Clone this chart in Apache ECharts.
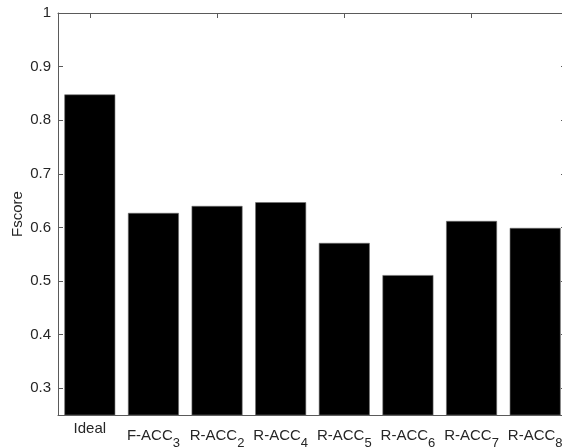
<!DOCTYPE html>
<html>
<head>
<meta charset="utf-8">
<script src="https://cdn.jsdelivr.net/npm/echarts@6/dist/echarts.min.js"></script>
<style>
html,body{margin:0;padding:0;background:#fff;}
#chart{width:562px;height:448px;}
</style>
</head>
<body>
<div id="chart"></div>
<script>
// Data
var categories = ['Ideal', 'F-ACC{sub|3}', 'R-ACC{sub|2}', 'R-ACC{sub|4}', 'R-ACC{sub|5}', 'R-ACC{sub|6}', 'R-ACC{sub|7}', 'R-ACC{sub|8}'];
var fscore = [0.848, 0.627, 0.640, 0.647, 0.571, 0.511, 0.612, 0.599];
var yTicks = [0.3, 0.4, 0.5, 0.6, 0.7, 0.8, 0.9, 1];
var yTickLabels = ['0.3', '0.4', '0.5', '0.6', '0.7', '0.8', '0.9', '1'];
var yLabel = 'Fscore';

var axisColor = '#5a5a5a';
var textColor = '#262626';
var fontFamily = 'Liberation Sans, Arial, sans-serif';

var chart = echarts.init(document.getElementById('chart'), null, {renderer: 'canvas'});
var option = {
  animation: false,
  backgroundColor: '#fff',
  grid: {left: 58, top: 13, right: -5, bottom: 33, containLabel: false, outerBoundsMode: 'none'},
  xAxis: [{
    type: 'category',
    data: categories,
    position: 'bottom',
    axisLine: {show: true, lineStyle: {color: axisColor, width: 1}},
    axisTick: {show: true, inside: true, length: 5, alignWithLabel: true, lineStyle: {color: axisColor}},
    axisLabel: {
      interval: 0, margin: 6, color: textColor, fontSize: 15, fontFamily: fontFamily,
      rich: {sub: {fontSize: 13, color: textColor, fontFamily: fontFamily, padding: [16, 0, 0, 0]}}
    },
    splitLine: {show: false}
  }, {
    type: 'category',
    data: categories,
    position: 'top',
    axisLine: {show: true, lineStyle: {color: axisColor, width: 1}},
    axisTick: {show: true, inside: true, length: 5, alignWithLabel: true, lineStyle: {color: axisColor}},
    axisLabel: {show: false},
    splitLine: {show: false}
  }],
  yAxis: [{
    type: 'value',
    min: 0.25,
    max: 1,
    position: 'left',
    name: yLabel,
    nameLocation: 'middle',
    nameGap: 33,
    nameMoveOverlap: false,
    nameTextStyle: {color: textColor, fontSize: 15, fontFamily: fontFamily},
    axisLine: {show: true, lineStyle: {color: axisColor, width: 1}},
    axisTick: {show: true, inside: true, length: 5, customValues: yTicks, lineStyle: {color: axisColor}},
    axisLabel: {
      customValues: yTicks, margin: 7, color: textColor, fontSize: 15, fontFamily: fontFamily,
      formatter: function (v) { var i = yTicks.findIndex(function (t) { return Math.abs(t - v) < 1e-9; }); return i >= 0 ? yTickLabels[i] : ''; }
    },
    splitLine: {show: false}
  }, {
    type: 'value',
    min: 0.25,
    max: 1,
    position: 'right',
    axisLine: {show: true, lineStyle: {color: axisColor, width: 1}},
    axisTick: {show: true, inside: true, length: 6, customValues: yTicks, lineStyle: {color: axisColor}},
    axisLabel: {show: false, customValues: yTicks},
    splitLine: {show: false}
  }],
  series: [{
    type: 'bar',
    data: fscore,
    xAxisIndex: 0,
    yAxisIndex: 0,
    barWidth: '80%',
    itemStyle: {color: '#000', borderColor: '#6e6e6e', borderWidth: 0.6},
    z: 1
  }]
};
chart.setOption(option);
</script>
</body>
</html>
